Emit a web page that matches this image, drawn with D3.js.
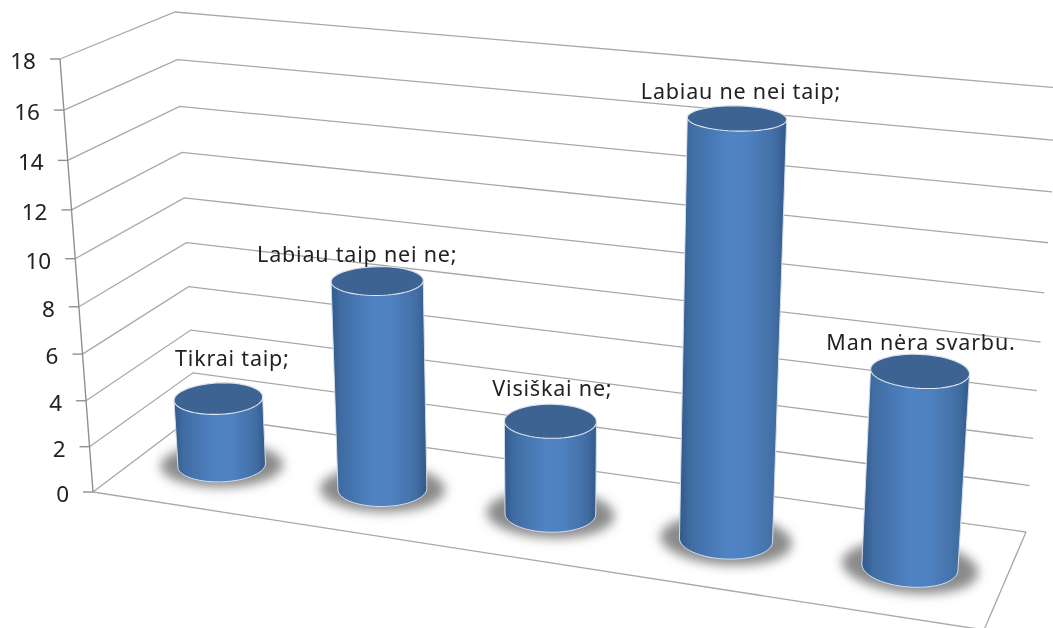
<!DOCTYPE html>
<html><head><meta charset="utf-8">
<script src="https://cdn.jsdelivr.net/npm/d3@7/dist/d3.min.js"></script>
<style>html,body{margin:0;padding:0;background:#fff;overflow:hidden}svg{display:block}text{font-family:"Noto Sans",sans-serif;fill:#222}</style>
</head><body><svg id="c" width="1053" height="628"></svg>
<script>
const categories = ["Tikrai taip;","Labiau taip nei ne;","Visiškai ne;","Labiau ne nei taip;","Man nėra svarbu."];
const values = [3,9,4,17,8];
const tickValues = [0,2,4,6,8,10,12,14,16,18];
const labelOffsets = [[14,-40],[-20,-26],[2,-32],[4,-26],[1,-28]];

const svg = d3.select("#c");
const defs = svg.append("defs");
// projected box corners
const box = {
  b:{fl:[93,492], bl:[195,415], br:[1026,532], fr:[984,630]},
  t:{fl:[60,59],  bl:[175,12],  br:[1060,88],  fr:[1010,150]}
};
const uScale = d3.scalePoint().domain(categories).range([0.1,0.9]);
const hScale = d3.scaleLinear().domain([0,18]).range([0,1]);
const warp = k => x => x/(1+k*(1-x));
const warpU = warp(0.119), warpH = warp(0.07);
const lerp = (a,b,t)=>[a[0]+(b[0]-a[0])*t, a[1]+(b[1]-a[1])*t];
function project(u,d,h){
  const U=warpU(u), T=warpH(hScale(h));
  const level=k=>lerp(lerp(box[k].fl,box[k].fr,U),lerp(box[k].bl,box[k].br,U),d);
  return lerp(level("b"),level("t"),T);
}
const line=d3.line();
const blur=(id,s)=>defs.append("filter").attr("id",id).attr("x","-50%").attr("y","-50%").attr("width","200%").attr("height","200%")
  .append("feGaussianBlur").attr("stdDeviation",s);
blur("soft",0.6); blur("shadow",5.5);
const grad=defs.append("linearGradient").attr("id","body").attr("x1",0).attr("x2",1).attr("y1",0).attr("y2",0);
[[0,"#31598a"],[0.1,"#3f6ca2"],[0.45,"#5083c3"],[0.65,"#4e80bf"],[0.9,"#416da2"],[1,"#31588a"]].forEach(s=>grad.append("stop").attr("offset",s[0]).attr("stop-color",s[1]));

const root=svg.append("g").attr("filter","url(#soft)");
const gridColor="#a8a8a8";
// walls
root.append("g").selectAll("path").data(tickValues).join("path")
  .attr("d",h=>line([project(0,0,h),project(0,1,h),project(1,1,h)]))
  .attr("fill","none").attr("stroke",gridColor).attr("stroke-width",1.3);
// floor edges
root.append("path").attr("d",line([project(0,0,0),project(1,0,0),project(1,1,0)]))
  .attr("fill","none").attr("stroke",gridColor).attr("stroke-width",1.3);
// axis + ticks
root.append("path").attr("d",line([project(0,0,0),project(0,0,18)])).attr("fill","none").attr("stroke","#909090").attr("stroke-width",1.4);
const ax=root.append("g").selectAll("g").data(tickValues).join("g").attr("transform",h=>`translate(${project(0,0,h)})`);
ax.append("line").attr("x1",-10).attr("x2",0).attr("stroke","#909090").attr("stroke-width",1.4);
ax.append("text").text(h=>h).attr("x",-24).attr("y",10).attr("text-anchor","end").attr("font-size",22.5);

// cylinders
const ru=0.05, rd=0.2, angles=d3.range(0,360,6).map(a=>a*Math.PI/180);
const ring=(u,h,kr=1,kd=1)=>angles.map(a=>project(u+ru*kr*Math.cos(a),0.5+rd*kd*Math.sin(a),h));
const rows=categories.map((c,i)=>({c,v:values[i],u:uScale(c),off:labelOffsets[i]}));
const closed=p=>line(p)+"Z";
const shadow=root.append("g");
shadow.selectAll("path").data(rows).join("path")
  .attr("d",r=>closed(ring(r.u,0,1.42,1.3)))
  .attr("fill","#8a8a8a").attr("filter","url(#shadow)");
const cyl=root.append("g").selectAll("g").data(rows).join("g");
cyl.append("path").attr("d",r=>closed(d3.polygonHull(ring(r.u,r.v).concat(ring(r.u,0)))))
  .attr("fill","url(#body)").attr("stroke","#d5dde8").attr("stroke-width",1);
cyl.append("path").attr("d",r=>closed(ring(r.u,r.v))).attr("fill","#3c6392").attr("stroke","#dfe6ef").attr("stroke-width",1.1);
// labels
root.append("g").selectAll("text").data(rows).join("text")
  .text(r=>r.c).attr("text-anchor","middle").attr("font-size",21.5).attr("letter-spacing",0.8)
  .attr("x",r=>project(r.u,0.5,r.v)[0]+r.off[0])
  .attr("y",r=>project(r.u,0.5,r.v)[1]+r.off[1]+7);
</script></body></html>
